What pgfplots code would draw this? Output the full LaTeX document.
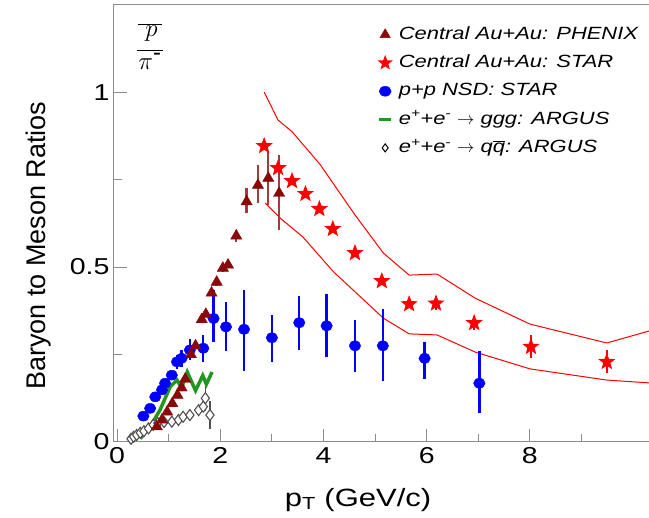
\documentclass[border=0pt]{standalone}
\usepackage{fontspec}
\setmainfont{Liberation Sans}
\newfontfamily\widefont[FakeStretch=1.24]{Liberation Sans}
\usepackage{pgfplots}
\usepackage{pgfplotstable}
\pgfplotsset{compat=1.18}

\definecolor{phx}{RGB}{139,8,8}
\definecolor{phxerr}{RGB}{160,60,60}
\definecolor{starred}{RGB}{255,0,0}
\definecolor{ppblue}{RGB}{0,0,255}
\definecolor{gggreen}{RGB}{34,150,34}
\definecolor{dgray}{RGB}{80,80,80}
\definecolor{axgray}{RGB}{140,140,140}

\pgfdeclareplotmark{fstar}{%
  \pgfpathmoveto{\pgfqpointpolar{90}{\pgfplotmarksize}}%
  \pgfpathlineto{\pgfqpointpolar{126}{0.42\pgfplotmarksize}}%
  \pgfpathlineto{\pgfqpointpolar{162}{\pgfplotmarksize}}%
  \pgfpathlineto{\pgfqpointpolar{198}{0.42\pgfplotmarksize}}%
  \pgfpathlineto{\pgfqpointpolar{234}{\pgfplotmarksize}}%
  \pgfpathlineto{\pgfqpointpolar{270}{0.42\pgfplotmarksize}}%
  \pgfpathlineto{\pgfqpointpolar{306}{\pgfplotmarksize}}%
  \pgfpathlineto{\pgfqpointpolar{342}{0.42\pgfplotmarksize}}%
  \pgfpathlineto{\pgfqpointpolar{18}{\pgfplotmarksize}}%
  \pgfpathlineto{\pgfqpointpolar{54}{0.42\pgfplotmarksize}}%
  \pgfpathclose\pgfusepathqfill}

\pgfplotstableread{
x y ep em
0.77 0.044 0 0
0.87 0.063 0 0
0.97 0.086 0 0
1.07 0.110 0 0
1.17 0.134 0 0
1.25 0.155 0 0
1.32 0.180 0 0
1.43 0.250 0 0
1.52 0.275 0 0
1.64 0.350 0 0
1.72 0.365 0 0
1.83 0.426 0.010 0.010
1.93 0.457 0.010 0.010
2.05 0.497 0.010 0.010
2.15 0.506 0.010 0.010
2.31 0.589 0.017 0.017
2.51 0.687 0.039 0.033
2.73 0.734 0.057 0.051
2.93 0.754 0.075 0.077
3.14 0.711 0.109 0.105
}\phenix

\pgfplotstableread{
x y e
2.85 0.846 0.010
3.12 0.783 0.010
3.39 0.746 0.010
3.65 0.709 0.010
3.92 0.666 0.010
4.18 0.609 0.010
4.61 0.540 0.010
5.13 0.460 0.010
5.66 0.394 0.012
6.18 0.396 0.020
6.92 0.340 0.020
8.02 0.272 0.033
9.49 0.229 0.033
}\star

\pgfplotstableread{
x y
2.85 1.000
3.12 0.920
3.39 0.887
3.93 0.794
4.61 0.649
5.16 0.540
5.66 0.477
6.20 0.480
6.94 0.411
8.00 0.337
9.49 0.283
10.40 0.321
}\starhi

\pgfplotstableread{
x y
2.87 0.683
3.16 0.640
3.60 0.586
4.19 0.487
5.16 0.354
5.66 0.309
6.20 0.306
6.94 0.257
8.00 0.209
9.49 0.177
10.40 0.168
}\starlo

\pgfplotstableread{
x y ep em
0.51 0.074 0.005 0.005
0.64 0.096 0.005 0.005
0.74 0.129 0.008 0.008
0.87 0.149 0.008 0.008
0.93 0.168 0.010 0.010
1.06 0.191 0.010 0.010
1.16 0.229 0.020 0.020
1.25 0.239 0.025 0.025
1.41 0.263 0.030 0.030
1.67 0.268 0.038 0.038
1.87 0.353 0.081 0.066
2.11 0.329 0.070 0.070
2.46 0.322 0.112 0.120
3.00 0.298 0.065 0.069
3.53 0.341 0.076 0.078
4.06 0.332 0.091 0.090
4.61 0.275 0.075 0.075
5.15 0.275 0.104 0.101
5.96 0.239 0.047 0.059
7.02 0.168 0.092 0.085
}\pp

\pgfplotstableread{
x y
0.45 0.010
0.64 0.044
0.83 0.091
1.03 0.158
1.16 0.177
1.25 0.155
1.36 0.200
1.52 0.147
1.66 0.190
1.73 0.165
1.84 0.200
}\ggg

\pgfplotstableread{
x y e
0.27 0.009 0
0.32 0.015 0
0.38 0.020 0
0.45 0.026 0
0.52 0.031 0
0.61 0.039 0
0.70 0.049 0
0.79 0.054 0
0.91 0.057 0
1.06 0.058 0
1.19 0.063 0
1.28 0.072 0
1.41 0.077 0
1.58 0.091 0
1.67 0.101 0
1.71 0.125 0.035
1.80 0.077 0.040
}\qq

\begin{document}
\begin{tikzpicture}
\useasboundingbox (-114pt,-76pt) rectangle (535pt,442pt);
\begin{axis}[
  at={(0pt,0pt)}, anchor=south west,
  scale only axis, width=540pt, height=437pt,
  xmin=-0.06, xmax=10.405, ymin=0, ymax=1.249,
  axis line style={axgray, line width=1pt},
  tick style={axgray, line width=1pt},
  major tick length=13pt, minor tick length=8pt,
  tick pos=left,
  xtick={0,2,4,6,8}, minor xtick={1,3,5,7,9},
  ytick={0,0.5,1}, minor ytick={0.25,0.75},
  /pgf/number format/assume math mode=true,
  tick label style={font=\widefont\fontsize{23}{23}\selectfont, black},
  xticklabel style={yshift=-2pt},
  yticklabel style={xshift=-1pt},
  xlabel={p\textsubscript{T} (GeV/c)},
  ylabel={Baryon to Meson Ratios},
  xlabel style={font=\widefont\fontsize{25}{25}\selectfont, at={(axis description cs:0.452,-0.132)}, anchor=center},
  ylabel style={font=\fontsize{27}{27}\selectfont, at={(axis description cs:-0.140,0.449)}, anchor=center},
  legend style={draw=none, fill=none, at={(axis description cs:0.487,0.952)}, anchor=north west,
    font=\widefont\itshape\fontsize{17.7}{17.7}\selectfont, row sep=11.3pt, inner sep=0pt,
    nodes={inner sep=0pt, text height=13pt, text depth=4pt},
    /tikz/every odd column/.append style={column sep=6pt}},
  legend cell align=left,
  legend image code/.code={\draw[mark repeat=2,mark phase=2,#1] plot coordinates {(0cm,0cm) (0.22cm,0cm) (0.44cm,0cm)};},
  error bars/error mark=none,
]
% STAR band
\addplot[starred, line width=1pt, forget plot] table[x=x,y=y] {\starhi};
\addplot[starred, line width=1pt, forget plot] table[x=x,y=y] {\starlo};
% ARGUS qqbar
\addplot[only marks, mark=diamond*, mark size=5.5pt, mark options={draw=dgray, fill=white, line width=1.1pt}, forget plot,
  error bars/.cd, y dir=both, y explicit, error bar style={dgray, line width=1.4pt}]
  table[x=x,y=y,y error=e] {\qq};
% p+p STAR
\addplot[only marks, mark=*, mark size=5pt, mark options={ppblue, xscale=1.15}, forget plot,
  error bars/.cd, y dir=both, y explicit, error bar style={ppblue, line width=2.4pt}]
  table[x=x,y=y,y error plus=ep,y error minus=em] {\pp};
% ARGUS ggg
\addplot[gggreen, line width=3.5pt, forget plot] table[x=x,y=y] {\ggg};
% PHENIX
\addplot[only marks, mark=triangle*, mark size=6.5pt, mark options={phx}, forget plot,
  error bars/.cd, y dir=both, y explicit, error bar style={phxerr, line width=2.4pt}]
  table[x=x,y=y,y error plus=ep,y error minus=em] {\phenix};
% STAR
\addplot[only marks, mark=fstar, mark size=9pt, mark options={starred}, forget plot,
  error bars/.cd, y dir=both, y explicit, error bar style={starred, line width=1.5pt}]
  table[x=x,y=y,y error=e] {\star};

\addlegendimage{only marks, mark=triangle*, mark size=6pt, mark options={phx}}
\addlegendentry{Central Au+Au: PHENIX}
\addlegendimage{only marks, mark=fstar, mark size=8pt, mark options={starred}}
\addlegendentry{Central Au+Au: STAR}
\addlegendimage{only marks, mark=*, mark size=5pt, mark options={ppblue, xscale=1.2}}
\addlegendentry{p+p NSD: STAR}
\addlegendimage{legend image code/.code={\draw[gggreen, line width=3.5pt] (0.0cm,0cm) -- (0.42cm,0cm);}}
\addlegendentry{e\textsuperscript{+}+e\textsuperscript{-} $\rightarrow$ ggg: ARGUS}
\addlegendimage{only marks, mark=diamond, mark size=4pt, mark options={draw=black, line width=1pt}}
\addlegendentry{e\textsuperscript{+}+e\textsuperscript{-} $\rightarrow$ q$\overline{\mbox{q}}$: ARGUS}

\node[inner sep=0pt] at (rel axis cs:0.0667,0.902) {\fontsize{34}{34}\selectfont\renewcommand{\arraystretch}{0.75}\setlength{\tabcolsep}{1pt}\setlength{\arrayrulewidth}{1.1pt}\begin{tabular}{c}$\overline{\;p\,}$\\[6pt]\hline $\pi$\textsuperscript{-}\end{tabular}};
\end{axis}
\end{tikzpicture}
\end{document}
